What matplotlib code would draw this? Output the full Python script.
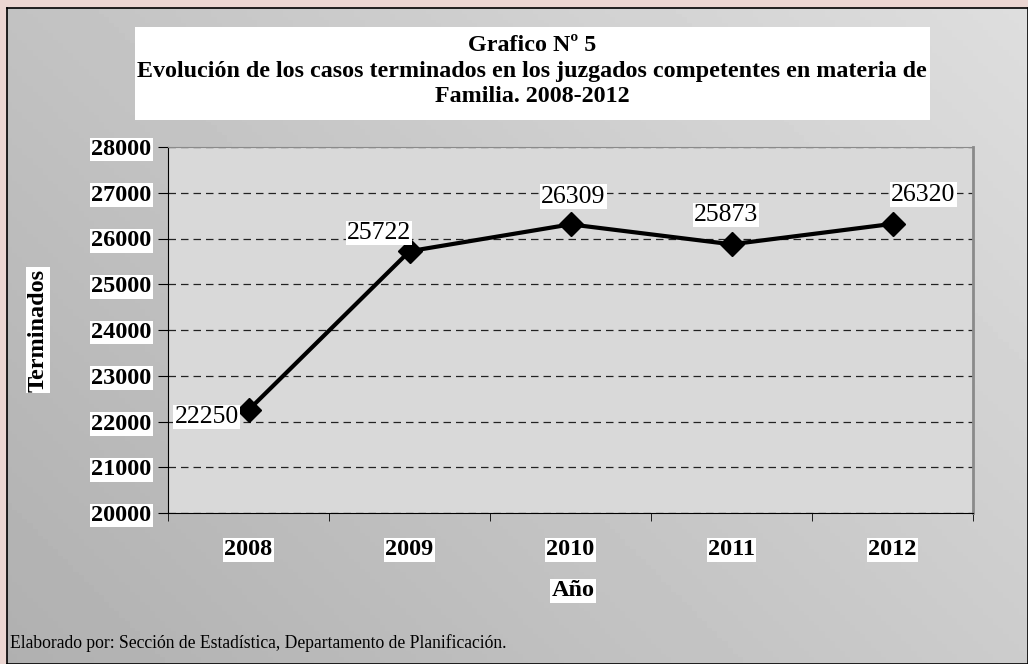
import matplotlib.pyplot as plt
import numpy as np
from matplotlib.patches import Rectangle

plt.rcParams['font.family'] = ['Liberation Serif', 'DejaVu Serif']

# datos
years = ['2008', '2009', '2010', '2011', '2012']
terminados = [22250, 25722, 26309, 25873, 26320]
y_ticks = [20000, 21000, 22000, 23000, 24000, 25000, 26000, 27000, 28000]

titulo = 'Grafico Nº 5\nEvolución de los casos terminados en los juzgados competentes en materia de\nFamilia. 2008-2012'
fuente = 'Elaborado por: Sección de Estadística, Departamento de Planificación.'

fig = plt.figure(figsize=(10.28, 6.64), dpi=100)
fig.patch.set_facecolor('#ecd6d2')

# panel gris con degradado
bg = fig.add_axes([0.0068, 0, 0.9932, 0.988])
gx, gy = np.meshgrid(np.linspace(0, 1, 200), np.linspace(0, 1, 200))
grad = 0.69 + 0.11 * gx + 0.07 * gy
bg.imshow(grad, cmap='gray', vmin=0, vmax=1, aspect='auto', origin='lower',
          extent=[0, 1, 0, 1])
bg.set_xlim(0, 1)
bg.set_ylim(0, 1)
bg.set_xticks([])
bg.set_yticks([])
for s in bg.spines.values():
    s.set_color('black')
    s.set_linewidth(1.2)

# caja del titulo
fig.patches.append(Rectangle((135 / 1028, 1 - 120 / 664), 795 / 1028, 93 / 664,
                             transform=fig.transFigure, facecolor='white',
                             edgecolor='none', zorder=1))
fig.text(532 / 1028, 1 - 71 / 664, titulo, ha='center', va='center',
         fontsize=17.3, fontweight='bold', linespacing=1.3, zorder=2)

ax = fig.add_axes([168 / 1028, 1 - 513 / 664, 805 / 1028, 366 / 664])
ax.set_facecolor('#d9d9d9')
x = np.arange(len(years))
ax.plot(x, terminados, color='black', linewidth=3, marker='D',
        markersize=12, zorder=3)

ax.set_xlim(-0.5, len(years) - 0.5)
ax.set_ylim(y_ticks[0], y_ticks[-1])
ax.set_yticks(y_ticks)
ax.set_xticks(x)
ax.set_xticklabels(years)
ax.set_xticks(np.arange(len(years) + 1) - 0.5, minor=True)
ax.tick_params(axis='x', which='major', length=0, pad=19)
ax.tick_params(axis='x', which='minor', length=6, direction='out')
ax.tick_params(axis='y', length=7, direction='out', pad=5)
ax.yaxis.grid(True, linestyle=(0, (6, 4)), color='#222222', linewidth=0.9)
ax.set_axisbelow(True)

for lab in ax.get_xticklabels() + ax.get_yticklabels():
    lab.set_fontsize(17.5)
    lab.set_fontweight('bold')
    lab.set_bbox(dict(facecolor='white', edgecolor='none', pad=1))

ax.spines['left'].set_color('black')
ax.spines['bottom'].set_color('black')
ax.spines['top'].set_color('#8a8a8a')
ax.spines['right'].set_color('#8a8a8a')
ax.spines['right'].set_linewidth(2)

# etiquetas de datos
offsets = [(-30, -5), (-22, 13), (2, 20), (-4, 21), (22, 21)]
for xi, v, off in zip(x, terminados, offsets):
    ax.annotate(str(v), (xi, v), xytext=off, textcoords='offset points',
                ha='center', va='center', fontsize=18.5,
                bbox=dict(facecolor='white', edgecolor='none', pad=1),
                zorder=4)

fig.text(38 / 1028, 1 - 330 / 664, 'Terminados', rotation=90, ha='center',
         va='center', fontsize=17.5, fontweight='bold',
         bbox=dict(facecolor='white', edgecolor='none', pad=1))
fig.text(573 / 1028, 1 - 591 / 664, 'Año', ha='center', va='center',
         fontsize=17.5, fontweight='bold',
         bbox=dict(facecolor='white', edgecolor='none', pad=1))
fig.text(10 / 1028, 1 - 643 / 664, fuente, ha='left', va='center',
         fontsize=12.7)

fig.savefig('out.png', dpi=100, facecolor=fig.get_facecolor())
